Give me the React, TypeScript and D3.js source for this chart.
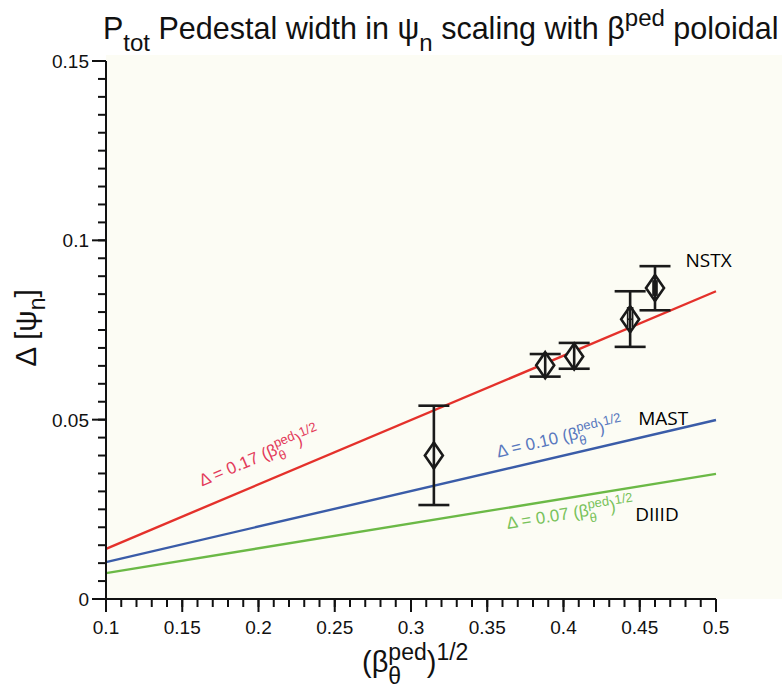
import React from 'react';
import * as d3 from 'd3';

// Chart size
const W = 782;
const H = 689;

// Axis domains and tick labels
const xDomain = [0.1, 0.5];
const yDomain = [0, 0.15];
const xTickLabels = ['0.1', '0.15', '0.2', '0.25', '0.3', '0.35', '0.4', '0.45', '0.5'];
const yTickLabels = ['0', '0.05', '0.1', '0.15'];

// Scaling fits: Δ at the left (0.1) and right (0.5) ends of the axis
const fitNames = ['NSTX', 'MAST', 'DIIID'];
const fitCoefs = ['0.17', '0.10', '0.07'];
const fitStart = [0.014, 0.0103, 0.0072];
const fitEnd = [0.0858, 0.0499, 0.0349];

// Measured pedestal widths with error bars
const pointX = [0.315, 0.388, 0.407, 0.4437, 0.46];
const pointY = [0.04, 0.0652, 0.0676, 0.078, 0.0867];
const errLo = [0.0262, 0.062, 0.0642, 0.0703, 0.0805];
const errHi = [0.0539, 0.0683, 0.0714, 0.0858, 0.0928];

// Overlapping inner error ranges on the two highest points
const innerIdx = [3, 4];
const innerLo = [0.0758, 0.0845];
const innerHi = [0.0814, 0.0889];

const lineColors = ['#e4312b', '#3a5ca8', '#6bb946'];
const labelColors = ['#e33a5a', '#5878be', '#78c25a'];

const M = { left: 106, right: 716, top: 61, bottom: 599 };
const SANS = "'Liberation Sans', Arial, Helvetica, sans-serif";
const LBL = "'Open Sans', 'Liberation Sans', sans-serif";

// (β^ped_θ)^1/2 with stacked super/subscript
function BetaExpr({ fs, ss, prefix }: { fs: number; ss: number; prefix: string }) {
  const up = fs * 0.42;
  const down = fs * 0.4;
  const pedW = 1.668 * ss;
  const thW = 0.556 * ss;
  return (
    <>
      <tspan>{prefix}(β</tspan>
      <tspan dy={-up} fontSize={ss}>ped</tspan>
      <tspan dx={-pedW} dy={up + down} fontSize={ss}>θ</tspan>
      <tspan dx={pedW - thW} dy={-down}>)</tspan>
      <tspan dy={-up} fontSize={ss}>1/2</tspan>
    </>
  );
}

export default function App() {
  const x = d3.scaleLinear().domain(xDomain).range([M.left, M.right]);
  const y = d3.scaleLinear().domain(yDomain).range([M.bottom, M.top]);

  const xMajor = d3.range(0, 9).map((i) => 0.1 + i * 0.05);
  const xMinor = d3.range(0, 41).map((i) => 0.1 + i * 0.01);
  const yMajor = d3.range(0, 4).map((i) => i * 0.05);
  const yMinor = d3.range(0, 31).map((i) => i * 0.005);

  const line = d3
    .line<[number, number]>()
    .x((d) => x(d[0]))
    .y((d) => y(d[1]));

  // Placement of each fit's formula label: position along the line and offset from it
  const labelAt = [0.168, 0.359, 0.361];
  const labelOff = [-20, -13, 21];
  const nameX = [0.48, 0.449, 0.447];
  const nameY = [0.0926, 0.0485, 0.0218];

  const capW = 31;
  const dW = 9;
  const dH = 13;

  return (
    <svg
      width={W}
      height={H}
      style={{ position: 'absolute', left: 0, top: 0, background: '#ffffff' }}
      fontFamily={SANS}
    >
      <rect x={M.left} y={M.top - 6} width={W - M.left} height={M.bottom - M.top + 6} fill="#fcfcf4" />

      {/* fits */}
      {fitNames.map((n, i) => {
        const pts: [number, number][] = [
          [xDomain[0], fitStart[i]],
          [xDomain[1], fitEnd[i]],
        ];
        const t = (labelAt[i] - xDomain[0]) / (xDomain[1] - xDomain[0]);
        const v = fitStart[i] + t * (fitEnd[i] - fitStart[i]);
        const ang =
          (Math.atan2(y(fitEnd[i]) - y(fitStart[i]), x(xDomain[1]) - x(xDomain[0])) * 180) / Math.PI;
        return (
          <g key={n}>
            <path d={line(pts) || ''} fill="none" stroke={lineColors[i]} strokeWidth={2.4} />
            <text
              transform={`translate(${x(labelAt[i])},${y(v)}) rotate(${ang})`}
              y={labelOff[i]}
              fontSize={17}
              fill={labelColors[i]}
            >
              <BetaExpr fs={17} ss={13} prefix={`Δ = ${fitCoefs[i]} `} />
            </text>
            <text x={x(nameX[i])} y={y(nameY[i])} fontFamily={LBL} fontSize={19} fill="#000">
              {n}
            </text>
          </g>
        );
      })}

      {/* data points */}
      {pointX.map((px, i) => {
        const cx = x(px);
        const cy = y(pointY[i]);
        return (
          <g key={i} stroke="#1a1a1a" strokeWidth={2.6} fill="none">
            <line x1={cx} x2={cx} y1={y(errLo[i])} y2={y(errHi[i])} />
            <line x1={cx - capW / 2} x2={cx + capW / 2} y1={y(errLo[i])} y2={y(errLo[i])} />
            <line x1={cx - capW / 2} x2={cx + capW / 2} y1={y(errHi[i])} y2={y(errHi[i])} />
            <path
              d={`M${cx},${cy - dH}L${cx + dW},${cy}L${cx},${cy + dH}L${cx - dW},${cy}Z`}
              fill="#fcfcf4"
            />
            <line x1={cx} x2={cx} y1={cy - dH} y2={cy + dH} />
          </g>
        );
      })}
      {innerIdx.map((pi, k) => {
        const cx = x(pointX[pi]);
        return k === 0 ? (
          <g key={k} stroke="#1a1a1a" strokeWidth={1.6}>
            <line x1={cx - 2.5} x2={cx - 2.5} y1={y(innerLo[k])} y2={y(innerHi[k])} />
            <line x1={cx + 2.5} x2={cx + 2.5} y1={y(innerLo[k])} y2={y(innerHi[k])} />
            <line x1={cx - 2.5} x2={cx + 2.5} y1={y(pointY[pi])} y2={y(pointY[pi])} />
          </g>
        ) : (
          <rect
            key={k}
            x={cx - 2.8}
            width={5.6}
            y={y(innerHi[k])}
            height={y(innerLo[k]) - y(innerHi[k])}
            fill="#1a1a1a"
          />
        );
      })}

      {/* axes */}
      <g stroke="#111" strokeWidth={2}>
        <line x1={M.left} x2={M.left} y1={M.top} y2={M.bottom + 1} />
        <line x1={M.left - 1} x2={M.right} y1={M.bottom} y2={M.bottom} />
        {xMinor.map((v, i) => (
          <line key={'xm' + i} x1={x(v)} x2={x(v)} y1={M.bottom} y2={M.bottom + 8} />
        ))}
        {xMajor.map((v, i) => (
          <line key={'xM' + i} x1={x(v)} x2={x(v)} y1={M.bottom} y2={M.bottom + 13} />
        ))}
        {yMinor.map((v, i) => (
          <line key={'ym' + i} x1={M.left - 8} x2={M.left} y1={y(v)} y2={y(v)} />
        ))}
        {yMajor.map((v, i) => (
          <line key={'yM' + i} x1={M.left - 14} x2={M.left} y1={y(v)} y2={y(v)} />
        ))}
      </g>
      {xMajor.map((v, i) => (
        <text key={'xl' + i} x={x(v)} y={M.bottom + 35} textAnchor="middle" fontSize={19} fill="#111">
          {xTickLabels[i]}
        </text>
      ))}
      {yMajor.map((v, i) => (
        <text key={'yl' + i} x={M.left - 17} y={y(v) + 7} textAnchor="end" fontSize={19} fill="#111">
          {yTickLabels[i]}
        </text>
      ))}

      {/* axis titles */}
      <text x={362} y={672} fontSize={29} fill="#111">
        <BetaExpr fs={29} ss={23} prefix="" />
      </text>
      <text transform="translate(36,328) rotate(-90)" textAnchor="middle" fontSize={30} fill="#111">
        <tspan>Δ [ψ</tspan>
        <tspan dy={9} fontSize={23}>n</tspan>
        <tspan dy={-9}>]</tspan>
      </text>

      {/* title */}
      <text x={103} y={39} fontSize={30.5} fill="#111">
        <tspan>P</tspan>
        <tspan dy={12} fontSize={24}>tot</tspan>
        <tspan dy={-12}> Pedestal width in ψ</tspan>
        <tspan dy={12} fontSize={24}>n</tspan>
        <tspan dy={-12}> scaling with β</tspan>
        <tspan dy={-13} fontSize={24}>ped</tspan>
        <tspan dy={13}> poloidal</tspan>
      </text>
    </svg>
  );
}
